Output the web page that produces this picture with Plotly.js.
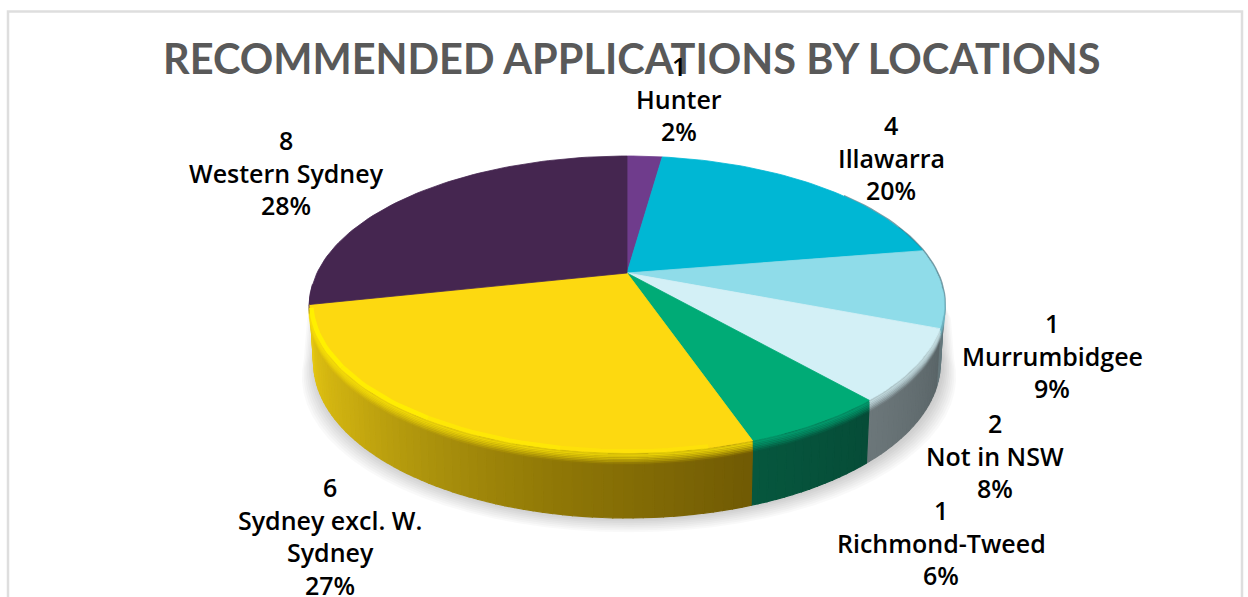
<!DOCTYPE html>
<html>
<head>
<meta charset="utf-8">
<script src="https://cdn.plot.ly/plotly-3.0.1.min.js"></script>
<style>html,body{margin:0;padding:0;background:#fff;overflow:hidden}#chart{width:1248px;height:597px}</style>
</head>
<body>
<div id="chart"></div>
<script>
// ---- data ----
const categories = ["Hunter", "Illawarra", "Murrumbidgee", "Not in NSW", "Richmond-Tweed", "Sydney excl. W. Sydney", "Western Sydney"];
const counts = [1, 4, 1, 2, 1, 6, 8];
const percents = [2.2, 20.2, 8.5, 7.7, 6.15, 26.85, 28.4];
const labelLines = [
  ["1", "Hunter", "2%"],
  ["4", "Illawarra", "20%"],
  ["1", "Murrumbidgee", "9%"],
  ["2", "Not in NSW", "8%"],
  ["1", "Richmond-Tweed", "6%"],
  ["6", "Sydney excl. W.", "Sydney", "27%"],
  ["8", "Western Sydney", "28%"]
];
const faceColors = ["#6F3C8C", "#00B7D4", "#8FDCE9", "#D3F0F6", "#00AB76", "#FDD910", "#452650"];
const highlight = ["#6F3C8C", "#00B7D4", "#6FB4C2", "#C4DDE2", "#02A070", "#F5DC08", "#452650"];
const wallStops = [
  [["#3a1f4a",0],["#3a1f4a",1]],
  [["#006a7a",0],["#006a7a",1]],
  [["#5b8790",0],["#66767a",1]],
  [["#5a6567",0],["#6c777a",1]],
  [["#064c37",0],["#06573e",1]],
  [["#705a04",0],["#8f7706",.3],["#a88f0c",.5],["#c9ac10",.72],["#dcbe12",.9],["#e6c814",1]],
  null
];
const labelX = [679, 891, 1052, 995, 941, 330, 286];
const labelY = [66, 125, 323, 423, 510, 487, 140];
const titleText = "RECOMMENDED APPLICATIONS BY LOCATIONS";

// ---- projection of the tilted disc ----
const cx = 627, cy = 273, A = 310, B = 141.8, K = 0.212;
function topPt(theta){
  const r = theta*Math.PI/180, u = Math.sin(r), v = -Math.cos(r), d = 1-K*v;
  return [cx + A*u/d, cy + B*v/d, v];
}
function bottomPt(theta){
  const p = topPt(theta);
  return [cx + (p[0]-cx)*0.988, p[1] + 56 + 9*p[2]];
}
function hex(c){return [1,3,5].map(i=>parseInt(c.substr(i,2),16));}
function stopColor(stops,t){
  for(let i=1;i<stops.length;i++){
    if(t<=stops[i][1]){
      const a=stops[i-1],b=stops[i],f=(t-a[1])/((b[1]-a[1])||1),ca=hex(a[0]),cb=hex(b[0]);
      return "rgb("+ca.map((x,j)=>Math.round(x+(cb[j]-x)*f)).join(",")+")";
    }
  }
  return stops[stops.length-1][0];
}
const traces = [];
function poly(xs,ys,color,opacity,lw){
  traces.push({type:"scatter",mode:"lines",x:xs,y:ys,fill:"toself",fillcolor:color,opacity:opacity===undefined?1:opacity,
    line:{color:color,width:lw===undefined?0.8:lw},hoverinfo:"skip",showlegend:false});
}
function arc(xs,ys,color,width,opacity){
  traces.push({type:"scatter",mode:"lines",x:xs,y:ys,opacity:opacity,line:{color:color,width:width},hoverinfo:"skip",showlegend:false});
}
const total = percents.reduce((a,b)=>a+b,0);
const edges = [0];
percents.forEach(p=>edges.push(edges[edges.length-1]+p/total*360));

// soft ground shadow
for(let k=0;k<9;k++){
  const xs=[],ys=[];
  for(let t=0;t<=360;t+=4){
    const b=bottomPt(t);
    xs.push(cx+(b[0]-cx)*(1+k*0.0055)+2);
    ys.push(b[1]+1.8*k-(b[1]<340?30:0));
  }
  poly(xs,ys,"#000000",0.022,0);
}
// side wall
const WALL_FROM=70, STEP=1.5;
percents.forEach((p,i)=>{
  if(!wallStops[i]) return;
  const a=Math.max(edges[i],WALL_FROM), b=edges[i+1];
  if(b<=a) return;
  for(let t=a;t<b-1e-6;t+=STEP){
    const t2=Math.min(t+STEP,b);
    const p1=topPt(t),p2=topPt(t2),q1=bottomPt(t),q2=bottomPt(t2);
    poly([p1[0],p2[0],q2[0],q1[0],p1[0]],[p1[1],p2[1],q2[1],q1[1],p1[1]],stopColor(wallStops[i],((t+t2)/2-a)/(b-a)),1,1.2);
  }
});
// rim shade on the right side of the disc
{
  const xs=[],ys=[];
  for(let t=52;t<=112;t+=2){const q=topPt(t);xs.push(q[0]+0.8);ys.push(q[1]);}
  arc(xs,ys,"#4d7f8c",2,0.75);
}
// bevel fade from the top face into the wall
percents.forEach((p,i)=>{
  const a=Math.max(edges[i],96), b=Math.min(edges[i+1],266);
  if(b<=a) return;
  for(let k=7;k>=1;k--){
    const xs=[],ys=[];
    for(let t=a;t<=b+1e-6;t+=(b-a)/Math.ceil((b-a)/2)){const q=topPt(t);xs.push(q[0]);ys.push(q[1]+k*1.6);}
    arc(xs,ys,highlight[i],2.4,0.9-k/8);
  }
});
// top faces
percents.forEach((p,i)=>{
  const xs=[cx],ys=[cy];
  const n=Math.max(4,Math.ceil((edges[i+1]-edges[i])/1.5));
  for(let j=0;j<=n;j++){const q=topPt(edges[i]+(edges[i+1]-edges[i])*j/n);xs.push(q[0]);ys.push(q[1]);}
  xs.push(cx);ys.push(cy);
  poly(xs,ys,faceColors[i]);
});
// bright lip of the yellow slice, strongest on the lit left side
[[168,190,0.35],[190,212,0.6],[212,234,0.85],[234,edges[6]-0.5,1]].forEach(seg=>{
  const xs=[],ys=[];
  for(let t=seg[0];t<=seg[1]+1e-6;t+=2){const q=topPt(t);xs.push(q[0]+(q[0]<cx?1.5:0));ys.push(q[1]-1.5);}
  arc(xs,ys,"#FFF000",4.5,seg[2]);
});

// ---- text ----
const annotations=[{xref:"x",yref:"y",x:632,y:58,text:titleText,showarrow:false,xanchor:"center",yanchor:"middle",
  font:{family:"Lato",size:41.5,color:"#595959",weight:700}}];
labelLines.forEach((lines,i)=>{
  lines.forEach((s,j)=>{
    annotations.push({xref:"x",yref:"y",x:labelX[i],y:labelY[i]+j*32.5,text:s,showarrow:false,xanchor:"center",yanchor:"middle",
      font:{family:"Open Sans",size:25,color:"#000000",weight:600}});
  });
});
const layout={
  width:1248,height:597,margin:{l:0,r:0,t:0,b:0},paper_bgcolor:"#ffffff",plot_bgcolor:"#ffffff",showlegend:false,
  xaxis:{range:[0,1248],visible:false,fixedrange:true},
  yaxis:{range:[597,0],visible:false,fixedrange:true},
  shapes:[{type:"path",xref:"x",yref:"y",path:"M 8 597 L 8 11.5 L 1242 11.5 L 1242 597",line:{color:"#DEDEDE",width:2.5}}],
  annotations:annotations
};
Plotly.newPlot("chart",traces,layout,{displayModeBar:false,staticPlot:true});
</script>
</body>
</html>
